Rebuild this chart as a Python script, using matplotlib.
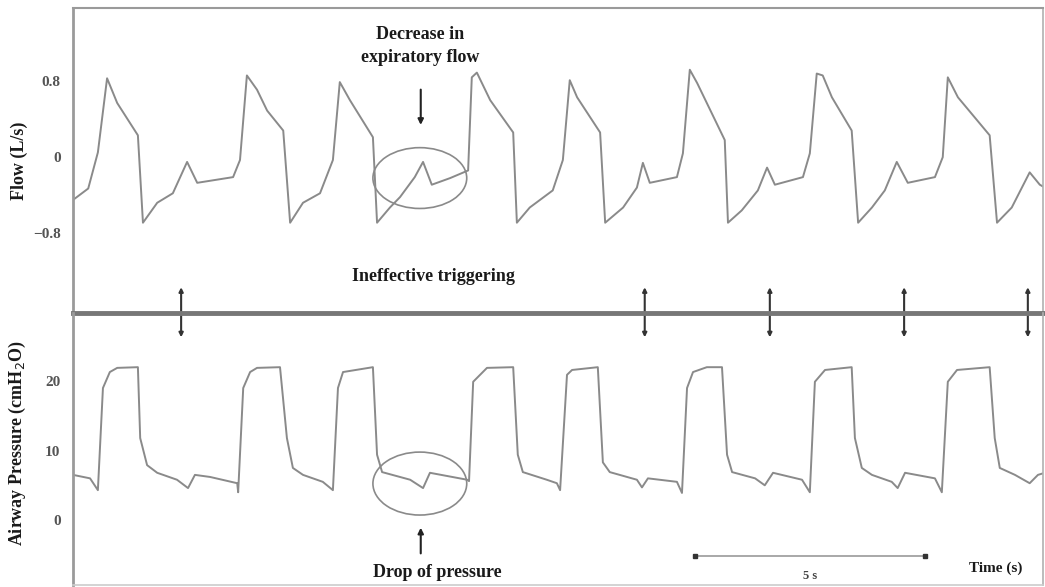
import matplotlib.pyplot as plt
from matplotlib.patches import Ellipse

# Flow trace (time in s, flow in L/s)
flow_t = [0.00, 0.33, 0.54, 0.74, 0.96, 1.41, 1.52, 1.83, 2.17, 2.48, 2.70, 3.48, 3.63,
          3.78, 4.00, 4.22, 4.57, 4.72, 5.00, 5.37, 5.65, 5.80, 6.02, 6.52, 6.61, 6.89,
          7.11, 7.43, 7.61, 7.80, 8.20, 8.59, 8.67, 8.78, 9.07, 9.57, 9.65, 9.93, 10.43,
          10.65, 10.80, 10.96, 11.46, 11.57, 11.96, 12.26, 12.39, 12.54, 13.13, 13.26,
          13.41, 13.57, 14.07, 14.17, 14.24, 14.54, 14.89, 15.09, 15.26, 15.87, 16.02,
          16.17, 16.30, 16.50, 16.93, 17.07, 17.37, 17.65, 17.91, 18.15, 18.74, 18.91,
          19.02, 19.24, 19.93, 20.09, 20.41, 20.80, 21.02, 21.13]
flow_v = [-0.45, -0.33, 0.05, 0.83, 0.57, 0.23, -0.69, -0.48, -0.38, -0.05, -0.27, -0.21, -0.03,
          0.86, 0.71, 0.49, 0.28, -0.69, -0.48, -0.38, -0.03, 0.79, 0.60, 0.21, -0.69, -0.53,
          -0.42, -0.21, -0.05, -0.29, -0.22, -0.14, 0.84, 0.89, 0.60, 0.26, -0.69, -0.53, -0.35,
          -0.03, 0.81, 0.63, 0.26, -0.69, -0.53, -0.32, -0.06, -0.27, -0.21, 0.04,
          0.92, 0.78, 0.28, 0.18, -0.69, -0.56, -0.35, -0.11, -0.29, -0.21, 0.04,
          0.88, 0.86, 0.63, 0.28, -0.69, -0.53, -0.35, -0.05, -0.27, -0.21, 0.00,
          0.84, 0.63, 0.23, -0.69, -0.53, -0.16, -0.29, -0.32]

# Airway pressure trace (time in s, cmH2O)
pres_t = [0.00, 0.37, 0.54, 0.65, 0.80, 0.96, 1.41, 1.46, 1.61, 1.83, 2.26, 2.50, 2.65, 2.98,
          3.57, 3.59, 3.70, 3.85, 4.00, 4.50, 4.65, 4.78, 5.00, 5.43, 5.65, 5.76, 5.87, 6.52,
          6.61, 6.72, 7.33, 7.61, 7.76, 8.57, 8.61, 8.70, 9.00, 9.57, 9.67, 9.78, 10.30,
          10.52, 10.59, 10.74, 10.85, 11.41, 11.52, 11.67, 12.26, 12.37, 12.50, 13.13,
          13.24, 13.35, 13.48, 13.78, 14.11, 14.22, 14.33, 14.83, 15.04, 15.22, 15.85,
          16.02, 16.13, 16.35, 16.93, 17.00, 17.15, 17.37, 17.80, 17.93, 18.09, 18.74,
          18.89, 19.02, 19.22, 19.93, 20.04, 20.15, 20.48, 20.80, 20.98, 21.13]
pres_v = [6.5, 6.0, 4.3, 19.0, 21.3, 21.9, 22.0, 11.8, 7.9, 6.8, 5.8, 4.6, 6.5, 6.2,
          5.3, 4.0, 19.0, 21.3, 21.9, 22.0, 11.8, 7.5, 6.5, 5.5, 4.3, 19.0, 21.3, 22.0,
          9.4, 6.9, 5.8, 4.6, 6.8, 5.8, 5.6, 19.9, 21.9, 22.0, 9.4, 6.9, 5.8,
          5.3, 4.3, 20.9, 21.6, 22.0, 8.3, 6.9, 5.8, 4.7, 6.0, 5.5,
          3.9, 19.0, 21.3, 22.0, 22.0, 9.4, 6.9, 6.0, 5.0, 6.8, 5.8,
          4.0, 19.9, 21.6, 22.0, 11.8, 7.5, 6.5, 5.5, 4.6, 6.8, 6.0,
          4.0, 19.9, 21.6, 22.0, 11.8, 7.5, 6.5, 5.3, 6.5, 6.8]

# Ineffective triggering marks (s)
trigger_t = [2.35, 12.43, 15.15, 18.07, 20.76]

trace_color = '#8a8a8a'
text_color = '#1a1a1a'
serif = 'Liberation Serif'

fig = plt.figure(figsize=(10.45, 5.87), dpi=100)
ax1 = fig.add_axes([0.0699, 0.4668, 0.9282, 0.5196])
ax2 = fig.add_axes([0.0699, 0.0034, 0.9282, 0.4634], sharex=ax1)
ax2.set_facecolor('none')  # so the trigger arrows from ax1 show through

ax1.plot(flow_t, flow_v, color=trace_color, lw=1.4)
ax2.plot(pres_t, pres_v, color=trace_color, lw=1.4)

ax1.set_xlim(0, 21.09)
ax1.set_ylim(-1.64, 1.57)
ax2.set_ylim(-9.35, 29.8)

ax1.set_yticks([0.8, 0, -0.8])
ax1.set_yticklabels(['0.8', '0', '\u22120.8'])
ax2.set_yticks([20, 10, 0])
for ax in (ax1, ax2):
    ax.tick_params(axis='y', length=0, pad=9, labelsize=11, labelcolor='#555555')
    ax.tick_params(axis='x', bottom=False, labelbottom=False)
    for lab in ax.get_yticklabels():
        lab.set_fontfamily(serif)
        lab.set_fontweight('bold')
    ax.spines['left'].set_color('#9a9a9a')
    ax.spines['left'].set_linewidth(2)
    ax.spines['right'].set_color('#b0b0b0')
    ax.spines['right'].set_linewidth(1.2)

ax1.spines['top'].set_color('#9a9a9a')
ax1.spines['top'].set_linewidth(1.5)
ax1.spines['bottom'].set_color('#777777')
ax1.spines['bottom'].set_linewidth(3.5)
ax1.spines['bottom'].set_zorder(5)
ax2.spines['top'].set_visible(False)
ax2.spines['bottom'].set_color('#cccccc')
ax2.spines['bottom'].set_linewidth(1.2)

ax1.set_ylabel('Flow (L/s)', fontfamily=serif, fontweight='bold', fontsize=13, color=text_color)
ax2.set_ylabel('Airway Pressure (cmH$_2$O)', fontfamily=serif, fontweight='bold', fontsize=13,
               color=text_color)
ax1.yaxis.set_label_coords(-0.046, 0.5)
ax2.yaxis.set_label_coords(-0.046, 0.52)

# Decrease in expiratory flow
ax1.text(7.54, 1.17, 'Decrease in\nexpiratory flow', ha='center', va='center', fontsize=13,
         fontfamily=serif, fontweight='bold', color=text_color, linespacing=1.5)
ax1.annotate('', xy=(7.56, 0.31), xytext=(7.56, 0.74),
             arrowprops=dict(arrowstyle='-|>', color='#222222', lw=1.5, mutation_scale=8))
ax1.add_patch(Ellipse((7.54, -0.22), 2.04, 0.64, fill=False, ec=trace_color, lw=1.2))

# Ineffective triggering
ax1.text(7.83, -1.26, 'Ineffective triggering', ha='center', va='center', fontsize=13,
         fontfamily=serif, fontweight='bold', color=text_color)
for t in trigger_t:
    ax1.annotate('', xy=(t, 25.9), xycoords=ax2.transData, xytext=(t, -1.34),
                 textcoords='data', annotation_clip=False,
                 arrowprops=dict(arrowstyle='<|-|>', color='#333333', lw=1.5, mutation_scale=6))

# Drop of pressure
ax2.add_patch(Ellipse((7.54, 5.25), 2.04, 9.06, fill=False, ec=trace_color, lw=1.2))
ax2.annotate('', xy=(7.56, -0.7), xytext=(7.56, -5.2),
             arrowprops=dict(arrowstyle='-|>', color='#222222', lw=1.5, mutation_scale=8))
ax2.text(7.91, -7.5, 'Drop of pressure', ha='center', va='center', fontsize=13,
         fontfamily=serif, fontweight='bold', color=text_color)

# 5 s scale bar
ax2.plot([13.52, 18.52], [-5.18, -5.18], color='#999999', lw=1.2, marker='s', ms=3,
         mec='#333333', mfc='#333333')
ax2.text(16.02, -8.06, '5 s', ha='center', va='center', fontsize=9, fontfamily=serif,
         fontweight='bold', color='#444444')
ax2.text(20.07, -6.9, 'Time (s)', ha='center', va='center', fontsize=11, fontfamily=serif,
         fontweight='bold', color=text_color)

plt.savefig('out.png', dpi=100)
plt.close()
